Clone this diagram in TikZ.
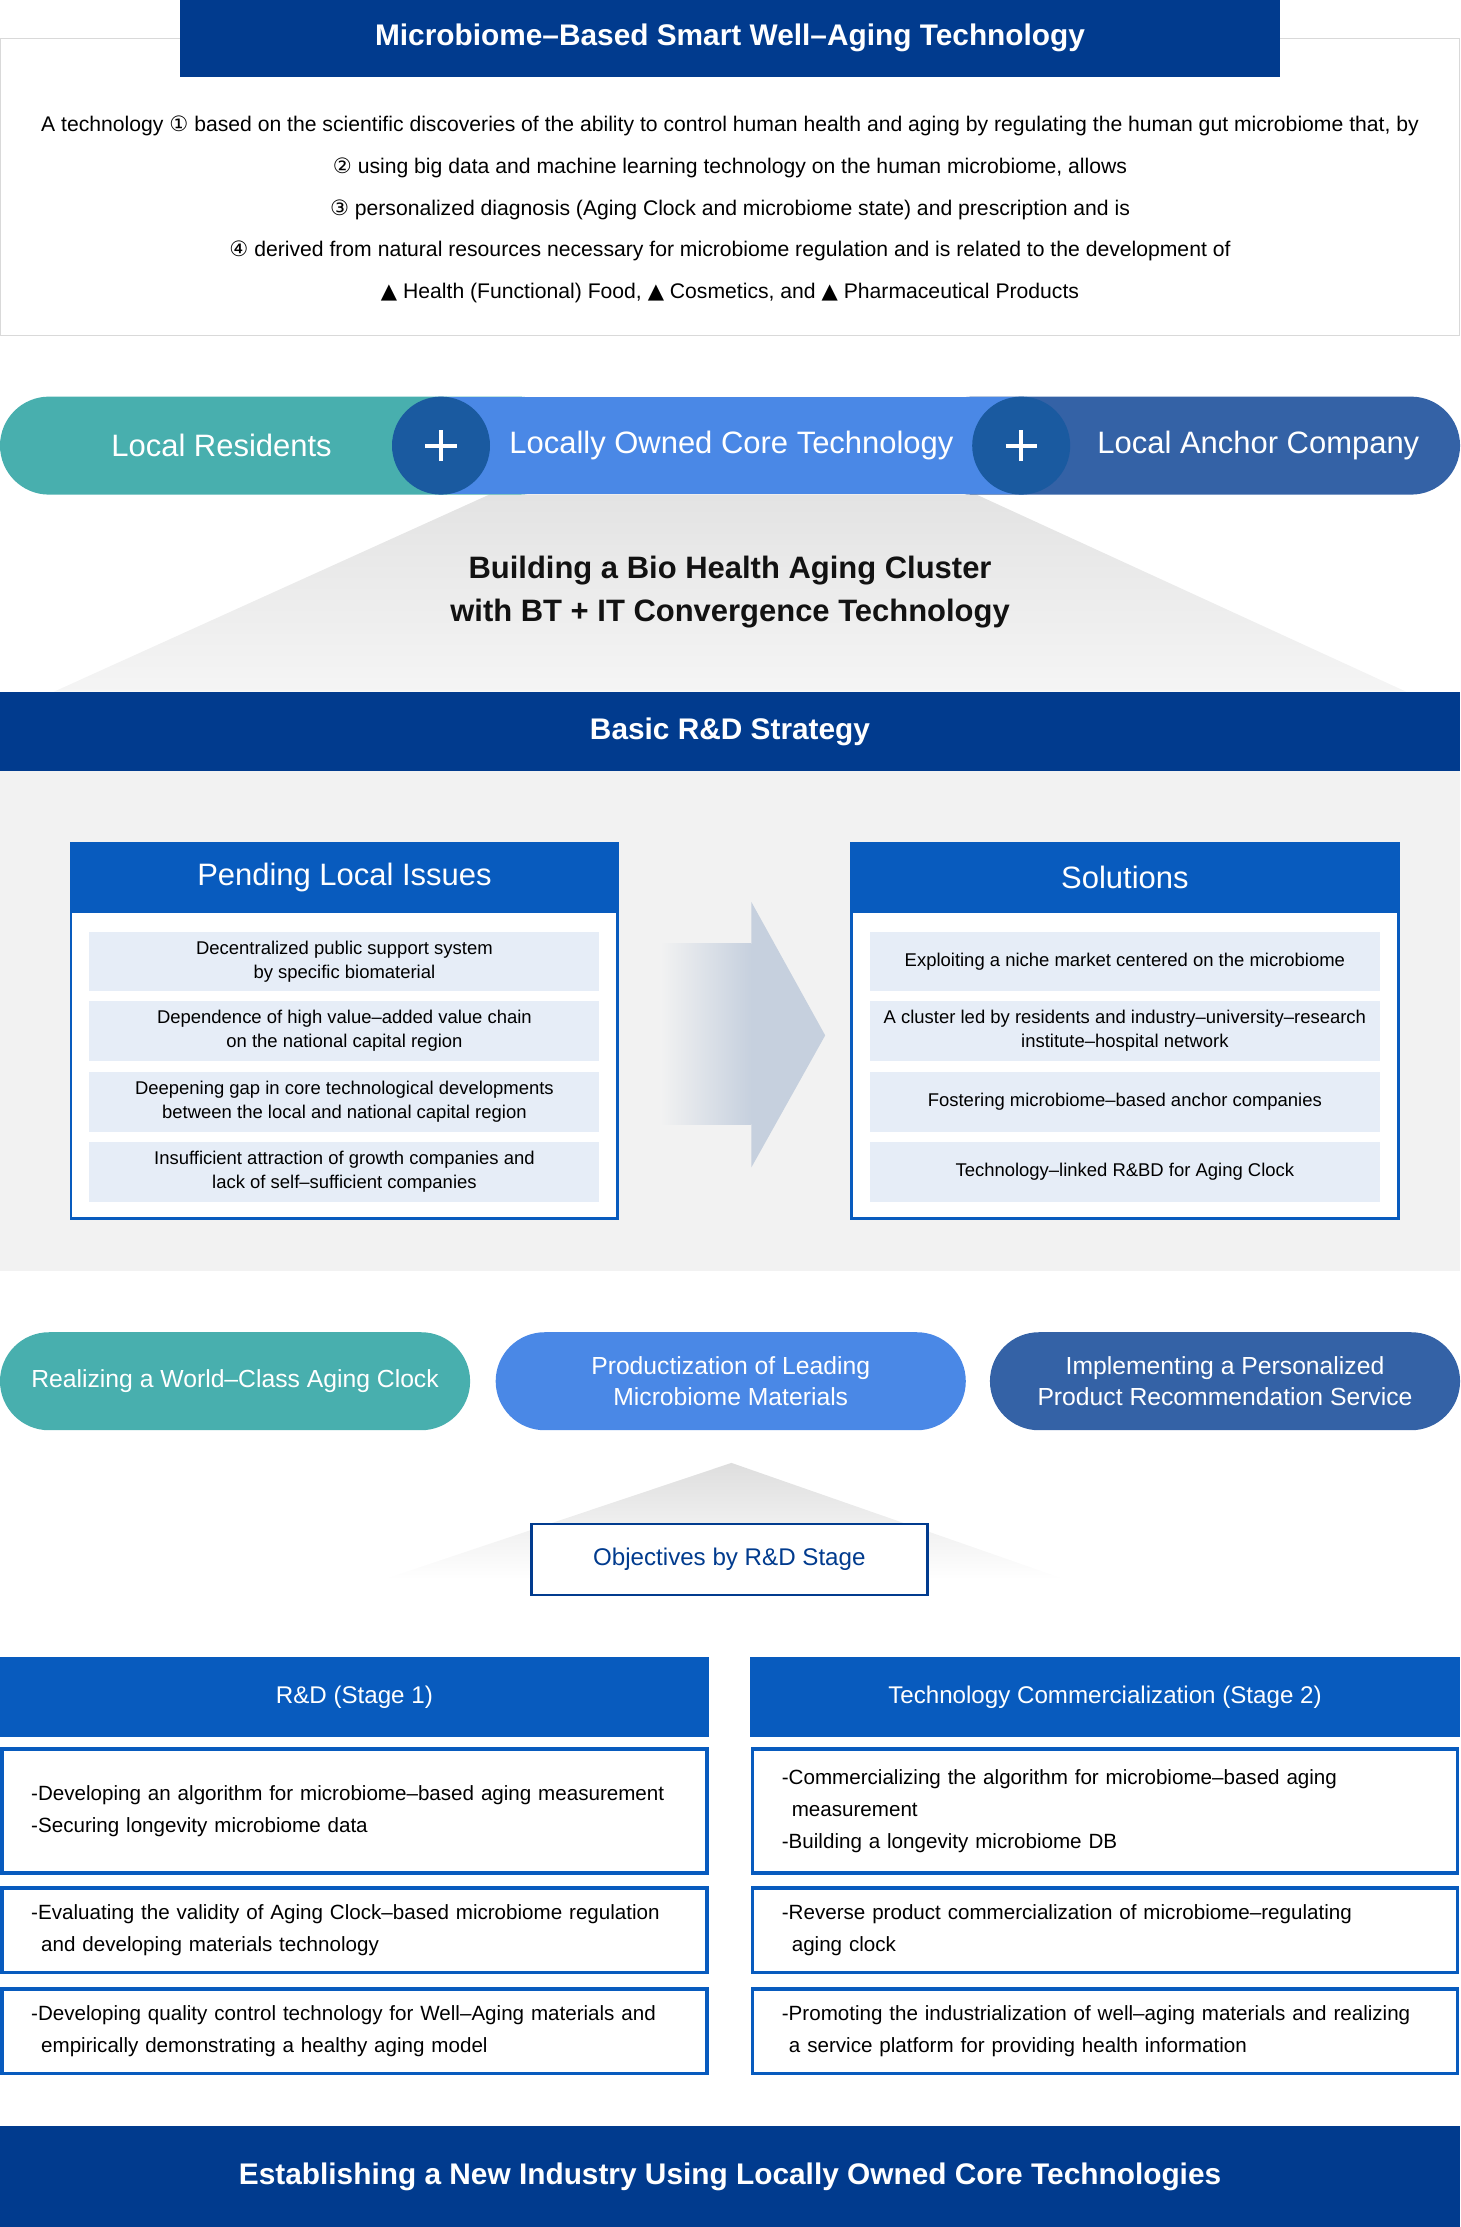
\documentclass[tikz,border=0pt]{standalone}
\usepackage{fontspec}
\setmainfont{Liberation Sans}
\newfontfamily\symfont{DejaVu Sans}
\usetikzlibrary{positioning}

\definecolor{navy}{HTML}{013B8E}
\definecolor{hdblue}{HTML}{085BBE}
\definecolor{pillteal}{HTML}{48AFAE}
\definecolor{pillblue}{HTML}{4A88E6}
\definecolor{pilldark}{HTML}{3462A6}
\definecolor{plusblue}{HTML}{1A5AA0}
\definecolor{itemfill}{HTML}{E6EDF7}
\definecolor{panelgray}{HTML}{F2F2F2}
\definecolor{framegray}{HTML}{D9D9D9}
\definecolor{arrowgray}{HTML}{C6D0DE}

\tikzset{
  bar/.style={fill=navy, text=white, inner sep=0pt, font=\bfseries\fontsize{21}{25}\selectfont},
  pill/.style={rounded corners=34.5pt, minimum height=69pt, inner sep=0pt},
  pilltext/.style={text=white, font=\fontsize{21.8}{25}\selectfont},
  goal/.style={pill, text=white, align=center, font=\fontsize{17.4}{22}\selectfont},
  plussign/.style={circle, fill=plusblue, minimum size=69pt, inner sep=0pt},
  panel/.style={draw=hdblue, line width=2pt, fill=white, minimum width=385pt, minimum height=264pt},
  panelhead/.style={fill=hdblue, text=white, minimum width=387pt, minimum height=50pt, font=\fontsize{21.8}{25}\selectfont},
  itembox/.style={fill=itemfill, minimum width=359pt, minimum height=42pt, inner sep=0pt, align=center, font=\fontsize{13}{17}\selectfont},
  stagehead/.style={fill=hdblue, text=white, minimum height=56pt, font=\fontsize{17}{20}\selectfont},
  stagebox/.style={draw=hdblue, line width=2.5pt, fill=white, minimum width=496.5pt, text width=455pt,
    inner xsep=20pt, align=left, font=\fontsize{14.5}{22.5}\selectfont},
}

\begin{document}
\begin{tikzpicture}[x=1pt, y=-1pt]
  \useasboundingbox (0,0) rectangle (1028,1568);

  % introduction
  \draw [framegray] (0.5,27) rectangle (1027.5,236);
  \node [bar, minimum width=774pt, minimum height=54pt] (title) at (514,27) {Microbiome–Based Smart Well–Aging Technology};
  \node [align=center, font=\fontsize{14.9}{29.3}\selectfont] (intro) at (514,147.5)
    {A technology {\symfont ①} based on the scientific discoveries of the ability to control human health and aging by regulating the human gut microbiome that, by\\
     {\symfont ②} using big data and machine learning technology on the human microbiome, allows\\
     {\symfont ③} personalized diagnosis (Aging Clock and microbiome state) and prescription and is\\
     {\symfont ④} derived from natural resources necessary for microbiome regulation and is related to the development of\\
     {\symfont ▲} Health (Functional) Food, {\symfont ▲} Cosmetics, and {\symfont ▲} Pharmaceutical Products};

  % three partners
  \shade [top color=black!11, bottom color=black!4] (345,348) -- (687,348) -- (990,487) -- (38,487) -- cycle;
  \node [pill, fill=pillteal, minimum width=400pt] (residentsbg) at (200,313.75) {};
  \node [pill, fill=pilldark, minimum width=378pt] (anchorbg) at (839,313.75) {};
  \fill [pillblue] (310,279.5) rectangle (719,348);
  \node [plussign] (plus1) at (310.5,313.75) {};
  \node [plussign] (plus2) at (719,313.75) {};
  \foreach \p in {plus1, plus2} {
    \draw [white, line width=2.8pt] ([xshift=-11pt]\p.center) -- ([xshift=11pt]\p.center);
    \draw [white, line width=2.8pt] ([yshift=-11pt]\p.center) -- ([yshift=11pt]\p.center);
  }
  \node [pilltext] (residents) at (156,313.75) {Local Residents};
  \node [pilltext] (coretech) at (515,313.75) {Locally Owned Core Technology};
  \node [pilltext] (anchor) at (886,313.75) {Local Anchor Company};
  \node [align=center, font=\bfseries\fontsize{21.8}{30}\selectfont, text=black!93] (cluster) at (514,417)
    {Building a Bio Health Aging Cluster\\with BT + IT Convergence Technology};

  % strategy
  \node [bar, minimum width=1028pt, minimum height=56pt] (strategy) at (514,515) {Basic R\&D Strategy};
  \fill [panelgray] (0,543) rectangle (1028,895);
  \node [panel] (issues) at (242.5,726) {};
  \node [panelhead] (issueshead) at (242.5,618) {Pending Local Issues};
  \node [itembox] (issue1) at (242.5,677) {Decentralized public support system\\by specific biomaterial};
  \node [itembox] (issue2) at (242.5,726) {Dependence of high value–added value chain\\on the national capital region};
  \node [itembox] (issue3) at (242.5,776) {Deepening gap in core technological developments\\between the local and national capital region};
  \node [itembox] (issue4) at (242.5,825) {Insufficient attraction of growth companies and\\lack of self–sufficient companies};
  \shade [left color=panelgray, right color=arrowgray] (465,664) rectangle (529,792);
  \fill [arrowgray] (529,635) -- (581,729) -- (529,822) -- cycle;
  \node [panel] (solutions) at (792,726) {};
  \node [panelhead] (solutionshead) at (792,618) {Solutions};
  \node [itembox] (sol1) at (792,677) {Exploiting a niche market centered on the microbiome};
  \node [itembox] (sol2) at (792,726) {A cluster led by residents and industry–university–research\\institute–hospital network};
  \node [itembox] (sol3) at (792,776) {Fostering microbiome–based anchor companies};
  \node [itembox] (sol4) at (792,825) {Technology–linked R\&BD for Aging Clock};

  % goals
  \node [goal, fill=pillteal, minimum width=331pt] (clock) at (165.5,972.5) {Realizing a World–Class Aging Clock};
  \node [goal, fill=pillblue, minimum width=331pt] (materials) at (514.5,972.5) {Productization of Leading\\Microbiome Materials};
  \node [goal, fill=pilldark, minimum width=331pt] (service) at (862.5,972.5) {Implementing a Personalized\\Product Recommendation Service};
  \shade [top color=black!13, bottom color=white] (515,1030) -- (750,1112) -- (270,1112) -- cycle;
  \node [draw=navy, line width=2pt, fill=white, minimum width=279pt, minimum height=50pt, text=navy,
    font=\fontsize{17}{20}\selectfont] (objectives) at (513.5,1098) {Objectives by R\&D Stage};

  % stages
  \node [stagehead, minimum width=499pt] (stage1) at (249.5,1195) {R\&D (Stage 1)};
  \node [stagehead, minimum width=500pt] (stage2) at (778,1195) {Technology Commercialization (Stage 2)};
  \node [stagebox, minimum height=87.5pt] (s1a) at (249.5,1275)
    {-Developing an algorithm for microbiome–based aging measurement\\-Securing longevity microbiome data};
  \node [stagebox, minimum height=59.5pt] (s1b) at (249.5,1359)
    {-Evaluating the validity of Aging Clock–based microbiome regulation\\\hspace*{7pt}and developing materials technology};
  \node [stagebox, minimum height=59.5pt] (s1c) at (249.5,1430)
    {-Developing quality control technology for Well–Aging materials and\\\hspace*{7pt}empirically demonstrating a healthy aging model};
  \node [stagebox, minimum height=87.5pt] (s2a) at (778,1275)
    {-Commercializing the algorithm for microbiome–based aging\\\hspace*{7pt}measurement\\-Building a longevity microbiome DB};
  \node [stagebox, minimum height=59.5pt] (s2b) at (778,1359)
    {-Reverse product commercialization of microbiome–regulating\\\hspace*{7pt}aging clock};
  \node [stagebox, minimum height=59.5pt] (s2c) at (778,1430)
    {-Promoting the industrialization of well–aging materials and realizing\\\hspace*{5pt}a service platform for providing health information};

  \node [bar, minimum width=1028pt, minimum height=71pt] (industry) at (514,1532.5)
    {Establishing a New Industry Using Locally Owned Core Technologies};
\end{tikzpicture}
\end{document}
